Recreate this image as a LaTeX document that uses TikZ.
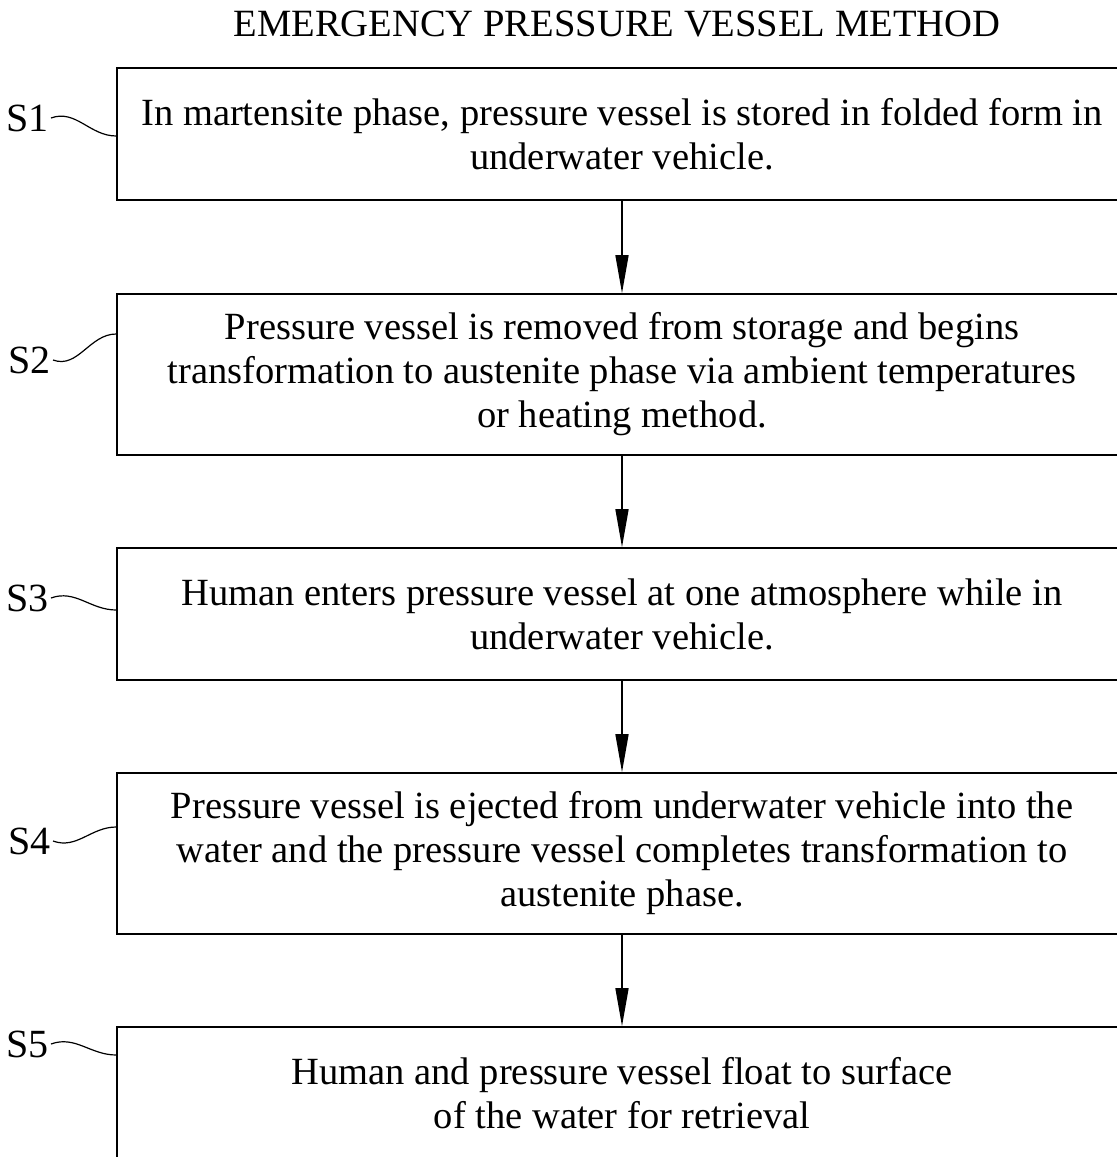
\documentclass[tikz,border=0pt]{standalone}
\usepackage{fontspec}
\setmainfont{Liberation Serif}
\usetikzlibrary{arrows.meta,positioning}
\tikzset{
	stepbox/.style={draw, line width=0.8pt, minimum width=505pt, inner sep=0pt, align=center, font=\fontsize{19.25}{22}\selectfont},
	steplab/.style={font=\fontsize{20}{22}\selectfont, inner sep=1pt, anchor=east},
	leader/.style={line width=0.6pt}
}
\begin{document}
\begin{tikzpicture}[x=0.5pt,y=-0.5pt,>={Triangle[length=19pt,width=6.5pt]},line width=0.75pt]
	\useasboundingbox (0,0) rectangle (1117,1157);
	\node[font=\fontsize{19.3}{22}\selectfont] (title) at (617,24) {EMERGENCY PRESSURE VESSEL METHOD};
	
	\node[stepbox, minimum height=66pt] (b1) at (622,134) {In martensite phase, pressure vessel is stored in folded form in\\ underwater vehicle.};
	\node[stepbox, minimum height=80.5pt] (b2) at (622,374.5) {Pressure vessel is removed from storage and begins\\ transformation to austenite phase via ambient temperatures\\ or heating method.};
	\node[stepbox, minimum height=66pt] (b3) at (622,614) {Human enters pressure vessel at one atmosphere while in\\ underwater vehicle.};
	\node[stepbox, minimum height=80.5pt] (b4) at (622,853.5) {Pressure vessel is ejected from underwater vehicle into the\\ water and the pressure vessel completes transformation to\\ austenite phase.};
	\node[stepbox, minimum height=66pt] (b5) at (622,1093) {Human and pressure vessel float to surface\\ of the water for retrieval};
	
	\node[steplab] (l1) at (51,118) {S1};
	\node[steplab] (l2) at (53,360) {S2};
	\node[steplab] (l3) at (51,598) {S3};
	\node[steplab] (l4) at (53,841) {S4};
	\node[steplab] (l5) at (51,1044) {S5};
	
	\draw[leader] (l1.east) to[out=20,in=180] ([yshift=-1pt]b1.west);
	\draw[leader] (l2.east) to[out=-20,in=180] ([yshift=20.25pt]b2.west);
	\draw[leader] (l3.east) to[out=20,in=180] ([yshift=2pt]b3.west);
	\draw[leader] (l4.east) to[out=-20,in=180] ([yshift=13.25pt]b4.west);
	\draw[leader] (l5.east) to[out=20,in=180] ([yshift=19pt]b5.west);
	
	\path[->] (b1.south) edge (b2.north);
	\path[->] (b2.south) edge (b3.north);
	\path[->] (b3.south) edge (b4.north);
	\path[->] (b4.south) edge (b5.north);
\end{tikzpicture}
\end{document}
